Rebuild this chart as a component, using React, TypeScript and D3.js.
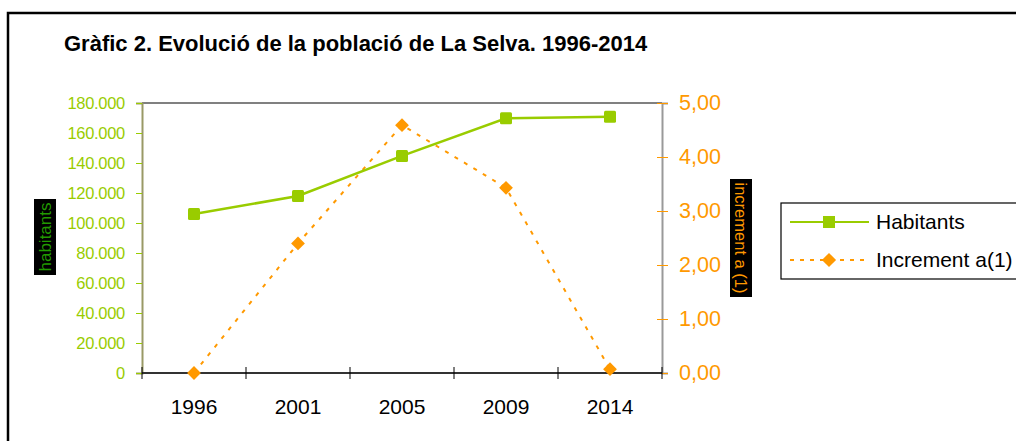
import { useRef, useEffect } from 'react';
import * as d3 from 'd3';

const YEARS = ['1996', '2001', '2005', '2009', '2014'];
const HABITANTS = [106000, 118000, 144700, 169800, 170900];
const INCREMENT = [0.0, 2.4, 4.59, 3.43, 0.07];
const LEFT_TICKS = [0, 20000, 40000, 60000, 80000, 100000, 120000, 140000, 160000, 180000];
const RIGHT_TICKS = [0, 1, 2, 3, 4, 5];
const LEGEND = ['Habitants', 'Increment a(1)'];

const GREEN = '#99cc00';
const ORANGE = '#ff9900';
const FONT = 'Liberation Sans, Arial, sans-serif';

export default function App() {
  const ref = useRef<SVGSVGElement>(null);

  useEffect(() => {
    if (!ref.current) return;
    const svg = d3.select(ref.current);
    svg.selectAll('*').remove();

    const left = 142, right = 662, top = 103, bottom = 373;

    const x = d3.scaleBand<string>().domain(YEARS).range([left, right]);
    const yL = d3.scaleLinear().domain([0, 180000]).range([bottom, top]);
    const yR = d3.scaleLinear().domain([0, 5]).range([bottom, top]);
    const cx = (d: string) => x(d)! + x.bandwidth() / 2;

    // outer frame
    svg.append('rect')
      .attr('x', 8).attr('y', 13).attr('width', 1020).attr('height', 450)
      .attr('fill', 'white').attr('stroke', '#000').attr('stroke-width', 2.5);

    svg.append('text')
      .attr('x', 64).attr('y', 51)
      .attr('font-family', FONT).attr('font-size', 22).attr('font-weight', 'bold')
      .text('Gràfic 2. Evolució de la població de La Selva. 1996-2014');

    // plot border
    svg.append('line').attr('x1', left).attr('x2', right).attr('y1', top).attr('y2', top)
      .attr('stroke', '#808080').attr('stroke-width', 2);

    // left axis
    const gl = svg.append('g').attr('transform', `translate(${left},0)`)
      .call(d3.axisLeft(yL).tickValues(LEFT_TICKS).tickSize(6).tickPadding(11)
        .tickFormat(d => d3.format(',')(d as number).replace(/,/g, '.')));
    gl.select('.domain').attr('stroke', '#999966').attr('stroke-width', 2);
    gl.selectAll('line').attr('stroke', GREEN);
    gl.selectAll('text').attr('fill', GREEN).attr('font-family', FONT).attr('font-size', 16.5)
      .attr('letter-spacing', -0.3);

    // right axis
    const gr = svg.append('g').attr('transform', `translate(${right},0)`)
      .call(d3.axisRight(yR).tickValues(RIGHT_TICKS).tickSize(6).tickPadding(11)
        .tickFormat(d => d3.format('.2f')(d as number).replace('.', ',')));
    gr.select('.domain').attr('stroke', '#999999').attr('stroke-width', 2);
    gr.selectAll('.tick line').attr('stroke', ORANGE).attr('x1', -5);
    gr.selectAll('text').attr('fill', ORANGE).attr('font-family', FONT).attr('font-size', 21.5);

    // bottom axis
    const gb = svg.append('g').attr('transform', `translate(0,${bottom})`);
    gb.append('line').attr('x1', left).attr('x2', right).attr('stroke', '#333').attr('stroke-width', 2);
    const edges = [...YEARS.map(d => x(d)!), right];
    gb.selectAll('line.tk').data(edges).join('line').attr('class', 'tk')
      .attr('x1', d => d).attr('x2', d => d).attr('y1', -6).attr('y2', 6)
      .attr('stroke', '#000');
    gb.selectAll('text').data(YEARS).join('text')
      .attr('x', d => cx(d)).attr('y', 41).attr('text-anchor', 'middle')
      .attr('font-family', FONT).attr('font-size', 21).text(d => d);

    // axis titles
    const lt = svg.append('g').attr('transform', 'translate(45,237) rotate(-90)');
    lt.append('rect').attr('x', -38).attr('y', -11).attr('width', 76).attr('height', 22).attr('fill', '#000');
    lt.append('text').attr('text-anchor', 'middle').attr('dy', 6)
      .attr('font-family', FONT).attr('font-size', 17).attr('fill', '#229900').text('habitants');

    const rt = svg.append('g').attr('transform', 'translate(741,238) rotate(90)');
    rt.append('rect').attr('x', -59).attr('y', -11).attr('width', 118).attr('height', 22).attr('fill', '#000');
    rt.append('text').attr('text-anchor', 'middle').attr('dy', 6)
      .attr('font-family', FONT).attr('font-size', 16.5).attr('fill', ORANGE).text('increment a (1)');

    // series
    const lineL = d3.line<number>().x((_, i) => cx(YEARS[i])).y(d => yL(d));
    const lineR = d3.line<number>().x((_, i) => cx(YEARS[i])).y(d => yR(d));

    svg.append('path').datum(INCREMENT).attr('d', lineR).attr('fill', 'none')
      .attr('stroke', ORANGE).attr('stroke-width', 2).attr('stroke-dasharray', '4,7');
    svg.append('path').datum(HABITANTS).attr('d', lineL).attr('fill', 'none')
      .attr('stroke', GREEN).attr('stroke-width', 2.5);

    svg.selectAll('rect.sq').data(HABITANTS).join('rect').attr('class', 'sq')
      .attr('x', (_, i) => cx(YEARS[i]) - 6).attr('y', d => yL(d) - 6)
      .attr('width', 12).attr('height', 12).attr('rx', 1.5).attr('fill', GREEN);
    svg.selectAll('path.dm').data(INCREMENT).join('path').attr('class', 'dm')
      .attr('d', d3.symbol().type(d3.symbolSquare).size(95)())
      .attr('transform', (d, i) => `translate(${cx(YEARS[i])},${yR(d)}) rotate(45)`)
      .attr('fill', ORANGE);

    // legend
    const lg = svg.append('g');
    lg.append('rect').attr('x', 781).attr('y', 203).attr('width', 270).attr('height', 76)
      .attr('fill', 'white').attr('stroke', '#000').attr('stroke-width', 1.2);
    LEGEND.forEach((name, i) => {
      const yy = 222 + i * 38;
      lg.append('line').attr('x1', 790).attr('x2', 869).attr('y1', yy).attr('y2', yy)
        .attr('stroke', i === 0 ? GREEN : ORANGE).attr('stroke-width', 2)
        .attr('stroke-dasharray', i === 0 ? null : '4,6');
      if (i === 0) {
        lg.append('rect').attr('x', 823).attr('y', yy - 6).attr('width', 12).attr('height', 12).attr('fill', GREEN);
      } else {
        lg.append('path').attr('d', d3.symbol().type(d3.symbolSquare).size(100)())
          .attr('transform', `translate(829,${yy}) rotate(45)`).attr('fill', ORANGE);
      }
      lg.append('text').attr('x', 876).attr('y', yy + 7)
        .attr('font-family', FONT).attr('font-size', 21).text(name);
    });
  }, []);

  return (
    <svg ref={ref} width={1016} height={441}
      style={{ position: 'absolute', left: 0, top: 0, background: '#fff' }} />
  );
}
